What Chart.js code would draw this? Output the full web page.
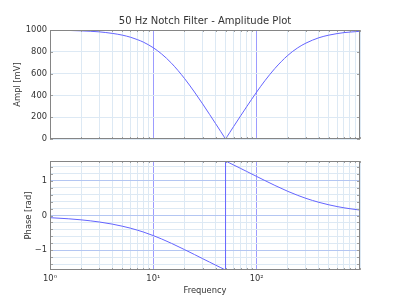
<!DOCTYPE html>
<html>
<head>
<meta charset="utf-8">
<script src="https://cdn.jsdelivr.net/npm/chart.js@4"></script>
<style>
  body { margin: 0; background: #fff; }
  #wrap { position: relative; width: 400px; height: 300px; }
  canvas { position: absolute; left: 0; }
</style>
</head>
<body>
<div id="wrap">
  <canvas id="amplChart" width="400" height="150" style="top:0"></canvas>
  <canvas id="phaseChart" width="400" height="150" style="top:150px"></canvas>
</div>
<script>
// values
const freqs = [1, 1.5, 2, 3, 4, 5, 6, 7, 8, 10, 12, 15, 20, 25, 30, 35, 40, 45, 48, 50,
	52, 55, 60, 70, 80, 100, 120, 150, 200, 250, 300, 400, 500, 600, 700, 800, 1000];
const amplitude = [998, 996, 992, 983, 969, 953, 934, 912, 889, 837, 781, 695, 556, 431, 322, 226, 142, 67, 26, 0,
	25, 61, 116, 213, 296, 431, 534, 647, 767, 837, 880, 929, 953, 967, 976, 981, 988];
// phase from 1 Hz up to the notch, and from the notch up
const phaseBelow = [-0.063, -0.094, -0.125, -0.187, -0.248, -0.308, -0.365, -0.422, -0.476, -0.580,
	-0.675, -0.803, -0.982, -1.125, -1.244, -1.343, -1.429, -1.504, -1.545, -1.571];
const phaseAbove = [1.571, 1.546, 1.510, 1.455, 1.356, 1.270, 1.125, 1.008, 0.867, 0.697,
	0.580, 0.494, 0.380, 0.308, 0.258, 0.222, 0.195, 0.156];

const freqTicks = [1, 2, 3, 4, 5, 6, 7, 8, 9, 10, 20, 30, 40, 50, 60, 70, 80, 90,
	100, 200, 300, 400, 500, 600, 700, 800, 900, 1000];
const freqLabelValues = [1, 10, 100];
const freqLabelText = ['10\u2070', '10\u00b9', '10\u00b2'];
const amplTicks = [0, 200, 400, 600, 800, 1000];
const phaseTicks = [-1.4, -1.2, -1, -0.8, -0.6, -0.4, -0.2, 0, 0.2, 0.4, 0.6, 0.8, 1, 1.2, 1.4];
const phaseLabelValues = [-1, 0, 1];
const phaseLabelText = ['\u22121', '0', '1'];

const lineColor = '#6464ff';
const majorGrid = '#9c9cff';
const majorGridH = '#b4c6f2';
const minorGrid = '#dde9f4';
const textColor = '#333';

Chart.defaults.font.family = 'DejaVu Sans';
Chart.defaults.font.size = 8.33;
Chart.defaults.color = textColor;

const nIdx = freqs.indexOf(50);
const lowFreqs = freqs.slice(0, nIdx + 1);
const highFreqs = freqs.slice(nIdx);

function xy(xs, ys)
{
	return xs.map((x, i) => ({x: x, y: ys[i]}));
}

function freqGrid(ctx)
{
	return ctx.tick && freqLabelValues.includes(ctx.tick.value) ? majorGrid : minorGrid;
}

// box round the plot area with small inward tick marks
const frame = {
	id: 'frame',
	afterDatasetsDraw(chart)
	{
		const {ctx, chartArea: a, scales} = chart;
		ctx.save();
		ctx.strokeStyle = '#a0a0a0';
		ctx.lineWidth = 1;
		ctx.beginPath();
		scales.x.ticks.forEach(t => {
			if (freqLabelValues.includes(t.value)) return;
			const px = Math.round(scales.x.getPixelForValue(t.value)) + 0.5;
			ctx.moveTo(px, a.top); ctx.lineTo(px, a.top + 2);
			ctx.moveTo(px, a.bottom); ctx.lineTo(px, a.bottom - 2);
		});
		scales.y.ticks.forEach(t => {
			const py = Math.round(scales.y.getPixelForValue(t.value)) + 0.5;
			ctx.moveTo(a.left, py); ctx.lineTo(a.left + 3, py);
			ctx.moveTo(a.right, py); ctx.lineTo(a.right - 3, py);
		});
		ctx.stroke();
		ctx.strokeStyle = '#858585';
		ctx.strokeRect(Math.round(a.left) + 0.5, Math.round(a.top) + 0.5,
			Math.round(a.width) - 1, Math.round(a.height) - 1);
		ctx.restore();
	}
};

function freqAxis(showLabels)
{
	return {
		type: 'logarithmic',
		min: 1,
		max: 1000,
		afterBuildTicks: s => { s.ticks = freqTicks.map(v => ({value: v})); },
		afterFit: s => { s.height = showLabels ? 30 : 11; },
		ticks: {
			display: showLabels,
			autoSkip: false,
			maxRotation: 0,
			padding: 4,
			callback: v => {
				const i = freqLabelValues.indexOf(v);
				return i >= 0 ? freqLabelText[i] : '';
			}
		},
		grid: {color: freqGrid, drawTicks: false},
		border: {display: false},
		title: {display: showLabels, text: 'Frequency', padding: {top: 0, bottom: 4}}
	};
}

// empty right-hand box so the plot ends at x=360 and the title centres over the plot
const spacer = {
	position: 'right',
	afterFit: s => { s.width = 40; },
	ticks: {display: false},
	grid: {display: false},
	border: {display: false}
};

const lineStyle = {
	borderColor: lineColor,
	borderWidth: 1,
	pointRadius: 0,
	fill: false,
	cubicInterpolationMode: 'monotone'
};

new Chart(document.getElementById('amplChart').getContext('2d'), {
	type: 'line',
	data: {
		datasets: [Object.assign({data: xy(freqs, amplitude)}, lineStyle)]
	},
	options: {
		responsive: false,
		animation: false,
		layout: {padding: {left: 10, right: 0, top: 0, bottom: 0}},
		plugins: {
			legend: {display: false},
			tooltip: {enabled: false},
			title: {
				display: true,
				text: '50 Hz Notch Filter - Amplitude Plot',
				color: textColor,
				font: {size: 10, weight: 'normal'},
				padding: {top: 15, bottom: 3}
			}
		},
		scales: {
			x: freqAxis(false),
			y: {
				min: 0,
				max: 1000,
				afterBuildTicks: s => { s.ticks = amplTicks.map(v => ({value: v})); },
				afterFit: s => { s.width = 40; },
				ticks: {padding: 3, autoSkip: false, callback: v => String(v)},
				grid: {color: minorGrid, drawTicks: false},
				border: {display: false},
				title: {display: true, text: 'Ampl [mV]', padding: {top: 3, bottom: 0}}
			},
			y2: spacer
		}
	},
	plugins: [frame]
});

new Chart(document.getElementById('phaseChart').getContext('2d'), {
	type: 'line',
	data: {
		datasets: [
			Object.assign({data: xy(lowFreqs, phaseBelow)}, lineStyle),
			Object.assign({data: [
				{x: 50, y: phaseBelow[phaseBelow.length - 1]},
				{x: 50, y: phaseAbove[0]}
			]}, lineStyle, {cubicInterpolationMode: 'default', tension: 0}),
			Object.assign({data: xy(highFreqs, phaseAbove)}, lineStyle)
		]
	},
	options: {
		responsive: false,
		animation: false,
		layout: {padding: {left: 10, right: 0, top: 11, bottom: 0}},
		plugins: {
			legend: {display: false},
			tooltip: {enabled: false}
		},
		scales: {
			x: freqAxis(true),
			y: {
				min: -Math.PI / 2,
				max: Math.PI / 2,
				afterBuildTicks: s => { s.ticks = phaseTicks.map(v => ({value: v})); },
				afterFit: s => { s.width = 40; },
				ticks: {
					padding: 3,
					autoSkip: false,
					callback: v => {
						const i = phaseLabelValues.indexOf(v);
						return i >= 0 ? phaseLabelText[i] : '';
					}
				},
				grid: {
					color: ctx => ctx.tick && phaseLabelValues.includes(ctx.tick.value) ? majorGridH : minorGrid,
					drawTicks: false
				},
				border: {display: false},
				title: {display: true, text: 'Phase [rad]', padding: {top: 14, bottom: 0}}
			},
			y2: spacer
		}
	},
	plugins: [frame]
});
</script>
</body>
</html>
